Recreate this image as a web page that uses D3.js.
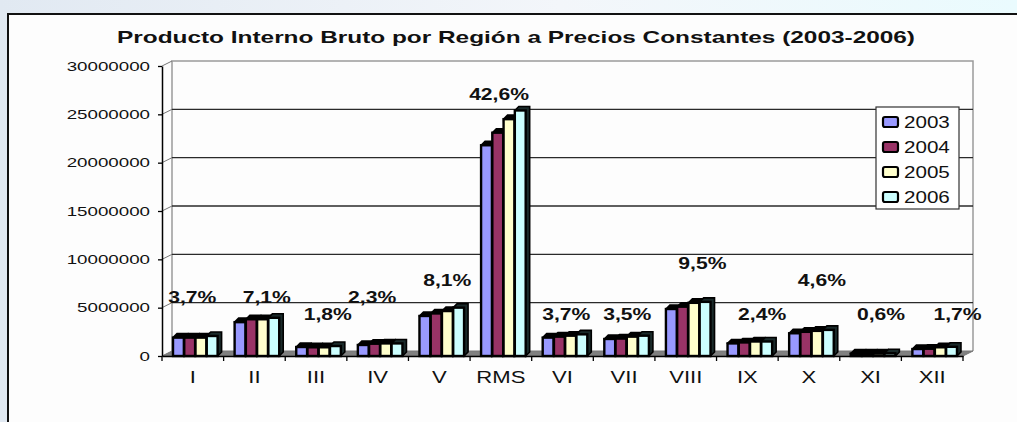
<!DOCTYPE html>
<html>
<head>
<meta charset="utf-8">
<script src="https://cdn.jsdelivr.net/npm/d3@7"></script>
<style>
  body { margin: 0; background: #fff; }
  svg { display: block; font-family: Arial, "Liberation Sans", sans-serif; }
</style>
</head>
<body>
<svg id="chart" width="1017" height="422"></svg>
<script>
  // regions (RMS = Región Metropolitana de Santiago)
  const categories = ['I', 'II', 'III', 'IV', 'V', 'RMS', 'VI', 'VII', 'VIII', 'IX', 'X', 'XI', 'XII'];
  const years = ['2003', '2004', '2005', '2006'];

  const v2003 = [1900000, 3500000, 930000, 1140000, 4140000, 21800000, 1900000, 1760000, 4860000, 1300000, 2350000, 250000, 720000];
  const v2004 = [1900000, 3800000, 900000, 1270000, 4400000, 23100000, 2000000, 1800000, 5100000, 1400000, 2500000, 250000, 750000];
  const v2005 = [1900000, 3800000, 900000, 1300000, 4650000, 24500000, 2100000, 2000000, 5500000, 1500000, 2600000, 260000, 900000];
  const v2006 = [2070000, 3950000, 1030000, 1300000, 5000000, 25400000, 2240000, 2100000, 5600000, 1500000, 2700000, 280000, 950000];

  // share of the national total, with the level (in pesos) and spot in the band where each label sits
  const shares = ['3,7%', '7,1%', '1,8%', '2,3%', '8,1%', '42,6%', '3,7%', '3,5%', '9,5%', '2,4%', '4,6%', '0,6%', '1,7%'];
  const shareLevel = [6100000, 6100000, 4350000, 6100000, 7800000, 27100000, 4350000, 4350000, 9600000, 4350000, 7800000, 4350000, 4350000];
  const shareSpot = [0.49, 0.70, 0.69, 0.41, 0.63, 0.47, 0.56, 0.55, 0.77, 0.74, 0.71, 0.67, 0.91];

  const yTicks = [0, 5000000, 10000000, 15000000, 20000000, 25000000, 30000000];

  const title = 'Producto Interno Bruto por Región a Precios Constantes (2003-2006)';

(function () {
  "use strict";

  const series = [v2003, v2004, v2005, v2006];
  const colors = ['#9999ff', '#993366', '#ffffcc', '#ccffff'];

  let svg = d3.select('#chart'),
    width = 1017,
    height = 422,
    padLeft = 162,
    padRight = 963,
    axisBottomY = 356,
    axisTopY = 66,
    wallDx = 10,
    wallDy = -5,
    barDepth = 4;

  /*
   * background + chart box
   */
  let defs = svg.append('defs');
  let bg = defs.append('linearGradient').attr('id', 'bg');
  bg.append('stop').attr('offset', '0%').attr('stop-color', '#e1e9f2');
  bg.append('stop').attr('offset', '55%').attr('stop-color', '#f3f6fa');
  bg.append('stop').attr('offset', '100%').attr('stop-color', '#eafbfe');

  svg.append('rect')
    .attr('width', width).attr('height', height)
    .attr('fill', 'url(#bg)');

  svg.append('rect')
    .attr('x', 8).attr('y', 14)
    .attr('width', width + 20).attr('height', height + 20)
    .attr('fill', '#fdfdfd')
    .attr('stroke', '#111')
    .attr('stroke-width', 2);

  svg.append('text')
    .attr('x', 117).attr('y', 43)
    .attr('textLength', 798)
    .attr('lengthAdjust', 'spacingAndGlyphs')
    .attr('font-size', 17)
    .attr('font-weight', 'bold')
    .attr('fill', '#111')
    .text(title);

  /*
   * scales
   */
  let y = d3.scaleLinear()
    .domain([0, 30000000])
    .range([axisBottomY, axisTopY]);

  let x0 = d3.scaleBand()
    .domain(categories)
    .range([padLeft, padRight]);

  let x1 = d3.scaleBand()
    .domain(years)
    .range([0, 45]);

  /*
   * back wall, gridlines, floor
   */
  let wall = svg.append('g').attr('class', 'wall');

  wall.append('path')
    .attr('d', 'M' + (padLeft + wallDx) + ',' + (y(0) + wallDy) +
      'V' + (y(30000000) + wallDy) + 'H' + (padRight + wallDx) + 'V' + (y(0) + wallDy))
    .attr('fill', 'none')
    .attr('stroke', '#9a9a9a')
    .attr('stroke-width', 1.5);

  wall.selectAll('line.grid')
    .data(yTicks.filter(function (d) { return d > 0 && d < 30000000; }))
    .enter()
    .append('line')
    .attr('class', 'grid')
    .attr('x1', padLeft + wallDx)
    .attr('x2', padRight + wallDx)
    .attr('y1', function (d) { return y(d) + wallDy; })
    .attr('y2', function (d) { return y(d) + wallDy; })
    .attr('stroke', '#2a2a2a')
    .attr('stroke-width', 1.3);

  // little slanted links from the axis to the wall
  wall.selectAll('line.link')
    .data(yTicks.filter(function (d) { return d > 0; }))
    .enter()
    .append('line')
    .attr('class', 'link')
    .attr('x1', padLeft)
    .attr('x2', padLeft + wallDx)
    .attr('y1', function (d) { return y(d); })
    .attr('y2', function (d) { return y(d) + wallDy; })
    .attr('stroke', '#777')
    .attr('stroke-width', 1);

  wall.append('path')
    .attr('d', 'M' + padLeft + ',' + y(0) + 'L' + (padLeft + wallDx) + ',' + (y(0) + wallDy) +
      'H' + (padRight + wallDx) + 'L' + padRight + ',' + y(0) + 'Z')
    .attr('fill', '#808080')
    .attr('stroke', '#777')
    .attr('stroke-width', 1);

  /*
   * legend (white box sits over the gridlines)
   */
  let legend = svg.append('g')
    .attr('class', 'legend')
    .attr('transform', 'translate(876,107)');

  legend.append('rect')
    .attr('width', 83).attr('height', 102)
    .attr('fill', '#fff')
    .attr('stroke', '#333')
    .attr('stroke-width', 1.2);

  let items = legend.selectAll('g.item')
    .data(years)
    .enter()
    .append('g')
    .attr('class', 'item')
    .attr('transform', function (d, i) { return 'translate(7,' + (15 + i * 25) + ')'; });

  items.append('rect')
    .attr('x', 0).attr('y', -5)
    .attr('width', 15).attr('height', 10)
    .attr('rx', 2)
    .attr('fill', function (d, i) { return colors[i]; })
    .attr('stroke', '#000')
    .attr('stroke-width', 2.2);

  items.append('text')
    .attr('transform', 'translate(21,0) scale(1.25,1)')
    .attr('dy', '0.36em')
    .attr('font-size', 16.5)
    .attr('fill', '#111')
    .text(function (d) { return d; });

  /*
   * bars
   */
  let barGroup = svg.append('g').attr('class', 'bars');

  series.forEach(function (values, s) {
    let g = barGroup.append('g').attr('class', 'year-' + years[s]);
    let w = x1.bandwidth() - 0.4;

    g.selectAll('path')
      .data(values)
      .enter()
      .append('path')
      .attr('d', function (d, i) {
        let bx = x0(categories[i]) + 11 + x1(years[s]),
          by = y(d),
          b = y(0);
        return 'M' + bx + ',' + by +
          'L' + (bx + barDepth) + ',' + (by - barDepth) +
          'H' + (bx + w + barDepth) +
          'V' + (b - barDepth) +
          'L' + (bx + w) + ',' + b + 'Z';
      })
      .attr('fill', s === 3 ? '#1a2a2a' : '#000')
      .attr('stroke', '#000')
      .attr('stroke-width', 1.6);

    g.selectAll('rect')
      .data(values)
      .enter()
      .append('rect')
      .attr('x', function (d, i) { return x0(categories[i]) + 11 + x1(years[s]); })
      .attr('y', function (d) { return y(d); })
      .attr('width', w)
      .attr('height', function (d) { return y(0) - y(d); })
      .attr('fill', colors[s])
      .attr('stroke', '#000')
      .attr('stroke-width', 2.4);
  });

  /*
   * axes
   */
  let axisY = d3.axisLeft(y)
    .tickValues(yTicks)
    .tickSize(4)
    .tickSizeOuter(0)
    .tickFormat(d3.format('d'));

  let gy = svg.append('g')
    .attr('class', 'axis-y')
    .attr('transform', 'translate(' + padLeft + ',0)')
    .call(axisY);

  gy.select('.domain').attr('stroke', '#000').attr('stroke-width', 1.5);
  gy.selectAll('line').attr('stroke', '#000').attr('stroke-width', 1.3);
  gy.selectAll('text')
    .attr('x', null)
    .attr('transform', 'translate(-12,0) scale(1.5,1)')
    .attr('font-size', 12.5)
    .attr('font-family', 'Arial, "Liberation Sans", sans-serif')
    .attr('fill', '#111');

  let axisX = d3.axisBottom(x0)
    .tickSize(0)
    .tickSizeOuter(0);

  let gx = svg.append('g')
    .attr('class', 'axis-x')
    .attr('transform', 'translate(0,' + axisBottomY + ')')
    .call(axisX);

  gx.select('.domain').attr('stroke', '#000').attr('stroke-width', 1.5);
  gx.selectAll('text')
    .attr('y', null).attr('dy', null)
    .attr('transform', 'translate(0,27) scale(1.3,1)')
    .attr('font-size', 17)
    .attr('font-family', 'Arial, "Liberation Sans", sans-serif')
    .attr('fill', '#111');

  // ticks between the regions
  gx.selectAll('line.sep')
    .data(categories.map(function (c) { return x0(c); }).concat([x0.range()[1]]))
    .enter()
    .append('line')
    .attr('class', 'sep')
    .attr('x1', function (d) { return d; })
    .attr('x2', function (d) { return d; })
    .attr('y1', 0).attr('y2', 5)
    .attr('stroke', '#000')
    .attr('stroke-width', 1.3);

  /*
   * share labels
   */
  svg.append('g')
    .attr('class', 'shares')
    .selectAll('text')
    .data(shares)
    .enter()
    .append('text')
    .attr('transform', function (d, i) {
      let lx = x0(categories[i]) + shareSpot[i] * x0.bandwidth();
      return 'translate(' + lx + ',' + y(shareLevel[i]) + ') scale(1.32,1)';
    })
    .attr('text-anchor', 'middle')
    .attr('dy', '0.36em')
    .attr('font-size', 16)
    .attr('font-weight', 'bold')
    .attr('fill', '#111')
    .text(function (d) { return d; });
}());
</script>
</body>
</html>
